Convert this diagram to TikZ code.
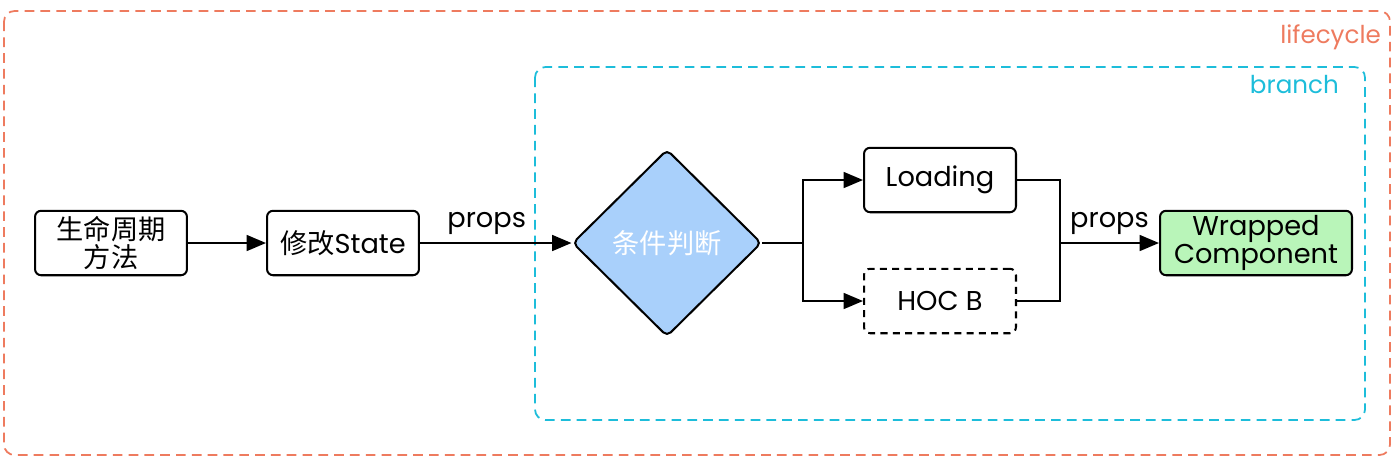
\documentclass[tikz,border=0pt]{standalone}
\usepackage{fontspec}
\setmainfont{Poppins}
\newfontfamily\cjk{Noto Sans CJK SC}
\usetikzlibrary{arrows.meta}
\usetikzlibrary{shapes.geometric}

\definecolor{lifeorange}{HTML}{EE7B5F}
\definecolor{branchcyan}{HTML}{1DBDDA}
\definecolor{condblue}{HTML}{A9D0FB}
\definecolor{wrapgreen}{HTML}{B9F5B9}

\tikzset{
  box/.style={draw,line width=1.15pt,rounded corners=3.5pt,inner sep=0pt,
    minimum width=3.04cm,minimum height=1.29cm,align=center,
    font=\fontsize{15.5}{16}\selectfont},
  dashbox/.style={box,dash pattern=on 4pt off 3pt},
  frame/.style={line width=1pt,rounded corners=6pt,dash pattern=on 5.5pt off 3.5pt},
  flow/.style={line width=1.15pt,-{Triangle[length=11pt,width=9pt]}},
  link/.style={line width=1.15pt}
}

\begin{document}
\begin{tikzpicture}[x=0.02cm,y=-0.02cm]
\useasboundingbox (0,0) rectangle (1400,461);

% containers
\draw[frame,lifeorange] (4,11) rectangle (1390,455);
\node[anchor=east,text=lifeorange,font=\fontsize{14}{15}\selectfont] (lifetxt) at (1387,37) {lifecycle};
\draw[frame,branchcyan] (535,67) rectangle (1365,420);
\node[anchor=east,text=branchcyan,font=\fontsize{14}{15}\selectfont] (branchtxt) at (1345,85) {branch};

% nodes
\node[box] (life) at (111,243) {{\cjk 生命周期}\\{\cjk 方法}};
\node[box] (state) at (343,243) {{\cjk 修改}State};
\node[diamond,draw,line width=1.15pt,fill=condblue,rounded corners=3pt,
  inner sep=0pt,minimum width=3.78cm,minimum height=3.74cm,
  text=white,font=\fontsize{15.5}{16}\selectfont] (cond) at (667,243) {\cjk 条件判断};
\node[box] (loading) at (940,180) {Loading};
\node[dashbox] (hocb) at (940,301) {HOC B};
\node[box,fill=wrapgreen,minimum width=3.84cm] (wrapped) at (1256,243) {Wrapped\\Component};

\coordinate (split) at (803,243);
\coordinate (merge) at (1060,243);

% connectors
\draw[flow] (life) -- (state);
\draw[flow] (state) -- node[pos=0.44,above=1pt,font=\fontsize{15.5}{16}\selectfont] {props} (cond);
\draw[link] (cond.east) -- (split);
\draw[flow] (split) |- (loading.west);
\draw[flow] (split) |- (hocb.west);
\draw[link] (loading.east) -| (merge);
\draw[link] (hocb.east) -| (merge);
\draw[flow] (merge) -- node[above=1pt,font=\fontsize{15.5}{16}\selectfont] {props} (wrapped.west);

\end{tikzpicture}
\end{document}
